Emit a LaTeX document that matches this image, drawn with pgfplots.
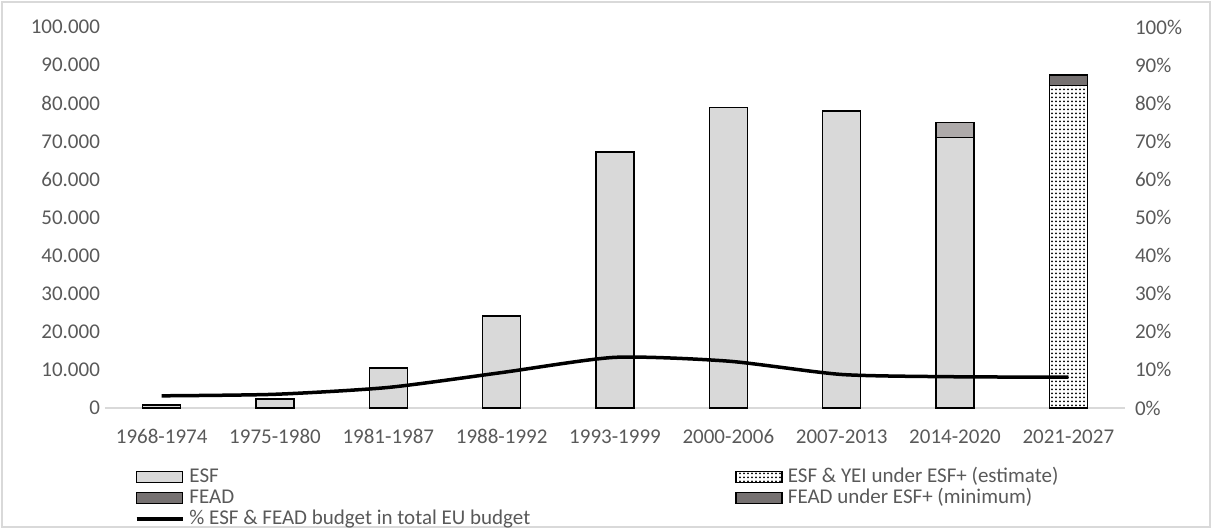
\documentclass[border=0pt]{standalone}
\usepackage{pgfplots}
\pgfplotsset{compat=1.18}
\usetikzlibrary{patterns.meta}
\usepackage{fontspec}
\setmainfont{Carlito}

\definecolor{txt}{HTML}{595959}
\definecolor{esf}{HTML}{D9D9D9}
\definecolor{fead}{HTML}{AEAAAA}
\definecolor{feaddark}{HTML}{767171}
\definecolor{frame}{HTML}{D9D9D9}

\pgfplotsset{
  barlegend/.style={legend image code/.code={\draw[##1] (0pt,-2.75pt) rectangle (23pt,2.75pt);}},
  linelegend/.style={legend image code/.code={\draw[##1] (0pt,0pt) -- (23pt,0pt);}},
  feadlegend/.style={legend image code/.code={\draw[fill=feaddark, draw=black, line width=0.75pt] (0pt,-2.75pt) rectangle (23pt,2.75pt);}},
}

% values in million EUR, one column per series (stacked)
\pgfplotstableread{
x  esf    esfplus  fead  feadplus  share
0  800    0        0     0         3.2
1  2400   0        0     0         3.6
2  10500  0        0     0         5.4
3  24100  0        0     0         9.3
4  67200  0        0     0         13.3
5  78900  0        0     0         12.3
6  78000  0        0     0         8.8
7  71000  0        3900  0         8.2
8  0      84600    0     2800      8.1
}\budget

\begin{document}
\begin{tikzpicture}[x=1pt,y=1pt,font=\fontsize{10.5pt}{12.5pt}\selectfont]
% chart frame (1px = 0.5pt)
\draw[frame, line width=1pt] (-51.5,-59.5) rectangle (552.5,203);
\path (-52.5,-60.5) rectangle (553.5,204);

\begin{axis}[
  at={(0,0)}, anchor=south west, scale only axis,
  width=510pt, height=190.5pt,
  xmin=-0.5, xmax=8.5, ymin=0, ymax=100000,
  ybar stacked, bar width=19pt,
  axis x line*=bottom, axis y line*=left,
  x axis line style={draw=frame, line width=1pt, -},
  y axis line style={draw=none},
  tick style={draw=none},
  scaled y ticks=false,
  xtick={0,...,8},
  xticklabels={1968-1974,1975-1980,1981-1987,1988-1992,1993-1999,2000-2006,2007-2013,2014-2020,2021-2027},
  ytick={0,10000,...,100000},
  yticklabels={0,10.000,20.000,30.000,40.000,50.000,60.000,70.000,80.000,90.000,100.000},
  ticklabel style={text=txt, font=\fontsize{10.5pt}{12.5pt}\selectfont},
  xticklabel style={anchor=base, yshift=-17.75pt},
  yticklabel style={xshift=1pt},
  legend columns=2,
  legend cell align=left,
  legend style={draw=none, fill=none, text=txt, font=\fontsize{10.5pt}{12.5pt}\selectfont,
    at={(axis description cs:0.029,-0.152)}, anchor=north west,
    inner sep=0pt,
    nodes={inner sep=0.5pt, text height=7.5pt, text depth=2pt},
    /tikz/column 1/.style={column sep=2pt},
    /tikz/column 2/.style={column sep=102pt},
    /tikz/column 3/.style={column sep=2pt}},
  barlegend,
]
\addplot[fill=esf, draw=black, line width=0.75pt] table[x=x, y=esf] {\budget};
\addlegendentry{ESF}
\addplot[fill=white, draw=black, line width=0.75pt,
  postaction={pattern={Dots[distance=2pt, radius=0.5pt]}, pattern color=black}]
  table[x=x, y=esfplus] {\budget};
\addlegendentry{ESF \& YEI under ESF+ (estimate)}
\addplot[fill=fead, draw=black, line width=0.75pt, feadlegend]
  table[x=x, y=fead] {\budget};
\addlegendentry{FEAD}
\addplot[fill=feaddark, draw=black, line width=0.75pt] table[x=x, y=feadplus] {\budget};
\addlegendentry{FEAD under ESF+ (minimum)}
\addlegendimage{black, line width=1.75pt, linelegend}
\addlegendentry{\% ESF \& FEAD budget in total EU budget}
\end{axis}

\begin{axis}[
  at={(0,0)}, anchor=south west, scale only axis,
  width=510pt, height=190.5pt,
  xmin=-0.5, xmax=8.5, ymin=0, ymax=100,
  axis x line=none, axis y line*=right,
  y axis line style={draw=none},
  tick style={draw=none},
  ytick={0,10,...,100},
  yticklabels={0\%,10\%,20\%,30\%,40\%,50\%,60\%,70\%,80\%,90\%,100\%},
  ticklabel style={text=txt, font=\fontsize{10.5pt}{12.5pt}\selectfont},
  yticklabel style={xshift=1.5pt},
]
\addplot[black, line width=1.75pt, smooth, tension=0.4] table[x=x, y=share] {\budget};
\end{axis}
\end{tikzpicture}
\end{document}
